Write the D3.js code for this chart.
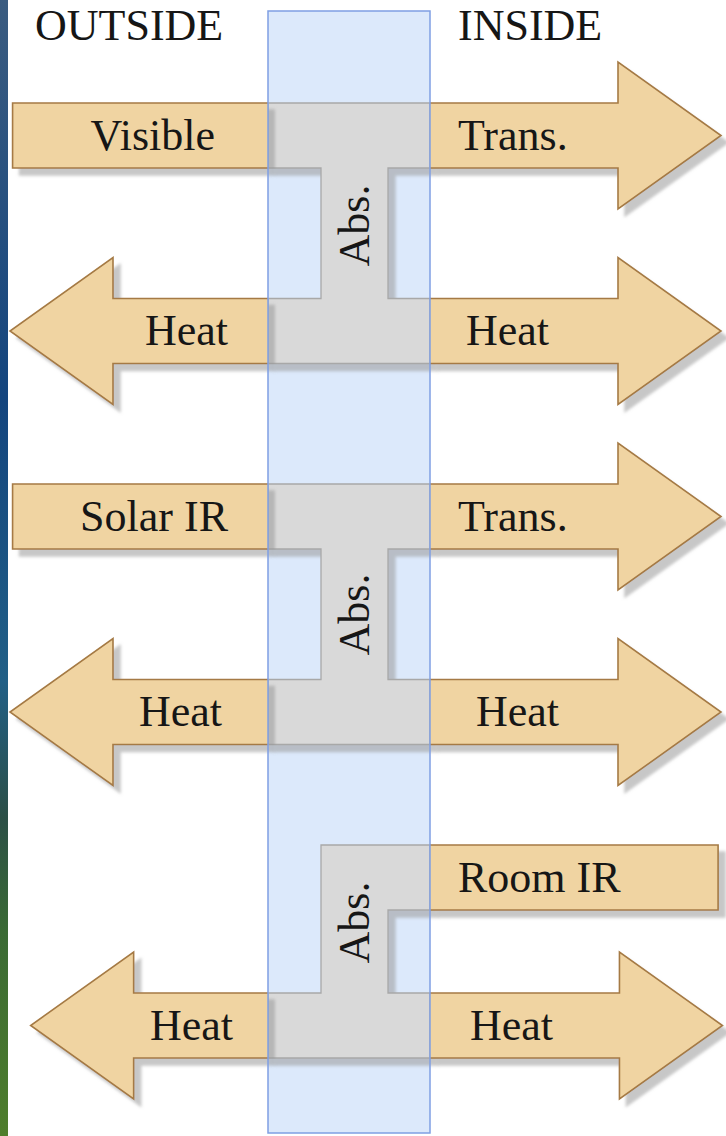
<!DOCTYPE html>
<meta charset="UTF-8">
<html>
<head>
<script src="https://d3js.org/d3.v7.min.js"></script>
<style>
  body { margin: 0; background: #fff; }
  svg { display: block; }
</style>
</head>
<body>
<div id="chart"></div>
<script>
// ---- data ----
var sideTitles = ["OUTSIDE", "INSIDE"];
// one entry per flow band
var flowLabels = ["Visible", "Trans.", "Heat", "Heat", "Solar IR", "Trans.", "Heat", "Heat", "Room IR", "Heat", "Heat"];
var flowSides  = ["out", "in", "out", "in", "out", "in", "out", "in", "in", "out", "in"];
var flowHeads  = ["none", "right", "left", "right", "none", "right", "left", "right", "none", "left", "right"];
var flowRows   = [0, 0, 1, 1, 2, 2, 3, 3, 4, 5, 5];
var flowReach  = [0.99, 1, 1, 1, 0.99, 1, 1, 1, 0.99, 0.92, 1.005];
var labelNudge = [-13, 0, 0, 8, 0, 0, -6, 18, 0, 5, 12];
// row levels (in diagram units, top to bottom)
var rowLevels  = [0, 1.955, 3.81, 5.765, 7.42, 8.9];
// absorption zones in the glass
var absTop     = [0, 2, 4];
var absBottom  = [1, 3, 5];
var absLabel   = [0.9, 4.79, 7.87];
var absFull    = [true, true, false];

// ---- layout ----
var W = 726, H = 1136;
var glassL = 268, glassR = 430, stemL = 321, stemR = 388;
var shaftH = 32.5, headH = 73.5, headL = 103;
var FONT = "'Liberation Serif'", FS = "44px";

var y = d3.scaleLinear().domain([0, 10]).range([135.5, 1135.5]);
var xOut = d3.scaleLinear().domain([0, 1]).range([glassL, 10]);
var xIn  = d3.scaleLinear().domain([0, 1]).range([glassR, 721]);

var svg = d3.select("#chart").append("svg").attr("width", W).attr("height", H);
var defs = svg.append("defs");

var grad = defs.append("linearGradient").attr("id", "photo")
  .attr("x1", 0).attr("y1", 0).attr("x2", 0).attr("y2", 1);
[["0%", "#3b5c80"], ["35%", "#14457e"], ["60%", "#215f86"], ["72%", "#2c4f46"], ["82%", "#3a6a34"], ["100%", "#4f7e2c"]]
  .forEach(function (s) { grad.append("stop").attr("offset", s[0]).attr("stop-color", s[1]); });

var sh = defs.append("filter").attr("id", "shadow")
  .attr("x", "-10%").attr("y", "-10%").attr("width", "130%").attr("height", "130%");
sh.append("feDropShadow").attr("dx", 7).attr("dy", 7).attr("stdDeviation", 1.5)
  .attr("flood-color", "#9a9a9a").attr("flood-opacity", 0.55);

// photo strip at the left edge
svg.append("rect").attr("x", 0).attr("y", 0).attr("width", 8).attr("height", H).attr("fill", "url(#photo)");

// side titles
svg.selectAll("text.title").data(sideTitles).enter().append("text")
  .attr("class", "title")
  .attr("x", function (d, i) { return i === 0 ? 35 : 458; })
  .attr("y", 40)
  .style("font-family", FONT)
  .style("font-size", FS)
  .style("fill", "#161616")
  .text(function (d) { return d; });

// glass fill
svg.append("rect").attr("x", glassL).attr("y", 11).attr("width", glassR - glassL).attr("height", 1122)
  .attr("fill", "#dce9fb");

// absorption shapes
var absPath = function (i) {
  var t = y(rowLevels[absTop[i]]), b = y(rowLevels[absBottom[i]]);
  var p = d3.path();
  p.moveTo(absFull[i] ? glassL : stemL, t - shaftH);
  p.lineTo(glassR, t - shaftH);
  p.lineTo(glassR, t + shaftH);
  p.lineTo(stemR, t + shaftH);
  p.lineTo(stemR, b - shaftH);
  p.lineTo(glassR, b - shaftH);
  p.lineTo(glassR, b + shaftH);
  p.lineTo(glassL, b + shaftH);
  p.lineTo(glassL, b - shaftH);
  p.lineTo(stemL, b - shaftH);
  if (absFull[i]) {
    p.lineTo(stemL, t + shaftH);
    p.lineTo(glassL, t + shaftH);
  }
  p.closePath();
  return p.toString();
};
svg.append("g").attr("filter", "url(#shadow)")
  .selectAll("path").data(absTop).enter().append("path")
  .attr("d", function (d, i) { return absPath(i); })
  .attr("fill", "#d9d9d9").attr("stroke", "#a8a8a8").attr("stroke-width", 1.3);

// arrows
var flowPath = function (i) {
  var c = y(rowLevels[flowRows[i]]);
  var out = flowSides[i] === "out";
  var x0 = out ? glassL : glassR;
  var tip = out ? xOut(flowReach[i]) : xIn(flowReach[i]);
  var p = d3.path();
  if (flowHeads[i] === "none") {
    p.moveTo(x0, c - shaftH);
    p.lineTo(tip, c - shaftH);
    p.lineTo(tip, c + shaftH);
    p.lineTo(x0, c + shaftH);
  } else {
    var s = out ? 1 : -1;
    var base = tip + s * headL;
    p.moveTo(x0, c - shaftH);
    p.lineTo(base, c - shaftH);
    p.lineTo(base, c - headH);
    p.lineTo(tip, c);
    p.lineTo(base, c + headH);
    p.lineTo(base, c + shaftH);
    p.lineTo(x0, c + shaftH);
  }
  return p.toString();
};
svg.append("g").attr("filter", "url(#shadow)")
  .selectAll("path").data(flowLabels).enter().append("path")
  .attr("d", function (d, i) { return flowPath(i); })
  .attr("fill", "#f0d4a2").attr("stroke", "#a57a44").attr("stroke-width", 1.6)
  .attr("stroke-linejoin", "miter");

// glass outline on top
svg.append("rect").attr("x", glassL).attr("y", 11).attr("width", glassR - glassL).attr("height", 1122)
  .attr("fill", "none").attr("stroke", "#7f9fe3").attr("stroke-width", 1.5);

// flow labels
svg.selectAll("text.flow").data(flowLabels).enter().append("text")
  .attr("class", "flow")
  .attr("x", function (d, i) { return (flowSides[i] === "out" ? 228 : 458) + labelNudge[i]; })
  .attr("y", function (d, i) { return y(rowLevels[flowRows[i]]) + 14; })
  .attr("text-anchor", function (d, i) { return flowSides[i] === "out" ? "end" : "start"; })
  .style("font-family", FONT)
  .style("font-size", FS)
  .style("fill", "#161616")
  .text(function (d) { return d; });

// "Abs." labels in the stems
svg.selectAll("text.abs").data(absLabel).enter().append("text")
  .attr("class", "abs")
  .attr("transform", function (d) { return "translate(" + ((stemL + stemR) / 2 + 14) + "," + y(d) + ") rotate(-90)"; })
  .attr("text-anchor", "middle")
  .style("font-family", FONT)
  .style("font-size", FS)
  .style("fill", "#161616")
  .text("Abs.");
</script>
</body>
</html>
